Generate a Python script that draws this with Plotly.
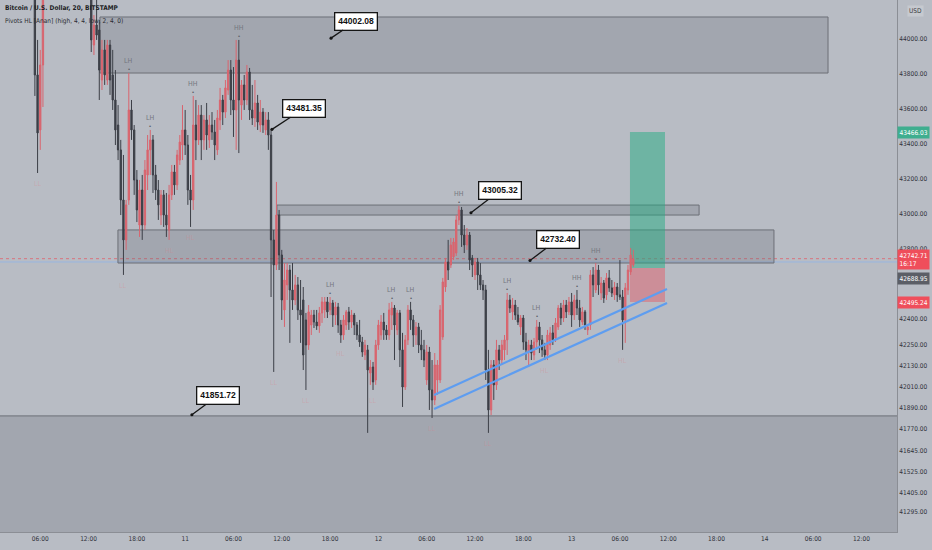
import pandas as pd
import plotly.graph_objects as go

# ---------------- data (BTC/USD, 20-minute bars, BITSTAMP) ----------------
opens = [44334, 43792, 43478, 43849, 44277, 44420, 44470, 44590, 44550, 44480, 44530, 44660, 44620, 44510, 44450, 44490,
         44570, 44460, 44380, 44420, 44330, 44277, 43963, 44077, 44049, 43763, 43935, 43763, 43963, 43792, 43649, 43506,
         43364, 43078, 42850, 43078, 43592, 43478, 43192, 42935, 43135, 42935, 43221, 43364, 43421, 43221, 43135, 42992,
         43107, 42992, 42907, 43107, 43238, 43164, 43306, 43392, 43478, 43392, 43135, 43078, 43506, 43421, 43563, 43421,
         43535, 43421, 43506, 43466, 43364, 43535, 43649, 43580, 43706, 43820, 43649, 43592, 43877, 43620, 43735, 43649,
         43809, 43592, 43546, 43632, 43506, 43580, 43478, 43535, 43449, 42850, 42707, 42992, 42764, 42450, 42593, 42678,
         42564, 42507, 42593, 42450, 42507, 42393, 42250, 42364, 42421, 42381, 42359, 42433, 42450, 42496, 42450, 42490,
         42421, 42467, 42364, 42307, 42364, 42439, 42381, 42421, 42364, 42307, 42267, 42193, 42222, 42090, 42124, 42050,
         42250, 42307, 42381, 42336, 42307, 42421, 42461, 42336, 42433, 42222, 42010, 42279, 42450, 42393, 42307, 42353,
         42250, 42222, 42050, 42210, 41993, 41936, 42050, 42050, 42296, 42581, 42724, 42707, 42753, 42775, 42964, 43021,
         42878, 42821, 42878, 42747, 42650, 42724, 42650, 42593, 42564, 42107, 41879, 42136, 42022, 42222, 42164, 42222,
         42279, 42507, 42439, 42478, 42421, 42353, 42404, 42267, 42210, 42250, 42193, 42267, 42353, 42279, 42222, 42193,
         42250, 42319, 42290, 42353, 42461, 42404, 42478, 42439, 42496, 42421, 42507, 42461, 42381, 42439, 42336, 42364,
         42650, 42564, 42678, 42547, 42604, 42536, 42633, 42576, 42536, 42581, 42536, 42524, 42393, 42564, 42667, 42707]
highs = [44448, 43992, 43935, 44391, 44560, 44510, 44620, 44680, 44600, 44560, 44700, 44750, 44650, 44580, 44520, 44600,
         44620, 44500, 44470, 44450, 44400, 44334, 44134, 44249, 44106, 43992, 43992, 43992, 43992, 43935, 43820, 43620,
         43421, 43335, 43078, 43803, 43649, 43506, 43249, 43192, 43221, 43306, 43449, 43478, 43449, 43278, 43192, 43135,
         43135, 43118, 43164, 43278, 43278, 43364, 43449, 43620, 43592, 43449, 43221, 43672, 43649, 43620, 43620, 43563,
         43632, 43563, 43580, 43535, 43592, 43718, 43678, 43763, 43877, 43877, 43837, 43992, 43992, 43763, 43792, 43849,
         43832, 43735, 43763, 43678, 43649, 43603, 43580, 43580, 43481, 42907, 43181, 43021, 42793, 42718, 42718, 42707,
         42718, 42650, 42638, 42621, 42581, 42433, 42478, 42450, 42450, 42450, 42467, 42524, 42524, 42524, 42524, 42507,
         42496, 42490, 42393, 42421, 42450, 42467, 42450, 42433, 42381, 42393, 42296, 42279, 42250, 42164, 42153, 42279,
         42393, 42421, 42433, 42364, 42490, 42496, 42478, 42450, 42450, 42319, 42307, 42478, 42496, 42421, 42381, 42376,
         42336, 42279, 42250, 42239, 42164, 42204, 42164, 42478, 42633, 42747, 42850, 42861, 42861, 42992, 43045, 43038,
         42935, 42918, 42895, 42764, 42747, 42747, 42718, 42621, 42593, 42222, 42164, 42164, 42279, 42250, 42279, 42307,
         42547, 42536, 42518, 42507, 42467, 42421, 42421, 42319, 42279, 42279, 42290, 42393, 42381, 42307, 42262, 42336,
         42353, 42364, 42404, 42478, 42490, 42507, 42507, 42524, 42547, 42536, 42564, 42507, 42467, 42450, 42364, 42678,
         42695, 42718, 42707, 42638, 42621, 42661, 42678, 42621, 42610, 42604, 42735, 42564, 42604, 42707, 42804, 42793]
lows = [43672, 43232, 43364, 43609, 44240, 44330, 44440, 44520, 44450, 44400, 44500, 44600, 44480, 44420, 44360, 44460,
        44430, 44330, 44300, 44290, 44250, 43923, 43906, 43992, 43649, 43706, 43735, 43735, 43678, 43592, 43392, 43306,
        42992, 42650, 42793, 43050, 43421, 43107, 42952, 42867, 42850, 42907, 43135, 43221, 43118, 43078, 42964, 42935,
        42924, 42867, 42850, 43078, 43107, 43135, 43278, 43306, 43335, 43050, 42924, 43021, 43306, 43392, 43306, 43364,
        43364, 43375, 43421, 43306, 43335, 43478, 43506, 43546, 43678, 43563, 43438, 43364, 43346, 43535, 43592, 43620,
        43535, 43506, 43495, 43478, 43466, 43461, 43449, 43364, 42524, 42096, 42678, 42678, 42393, 42353, 42507, 42262,
        42450, 42478, 42393, 42262, 42107, 41993, 42222, 42307, 42347, 42336, 42319, 42376, 42404, 42404, 42421, 42353,
        42364, 42319, 42262, 42279, 42336, 42336, 42347, 42307, 42279, 42239, 42182, 42164, 41748, 42022, 41993, 42022,
        42222, 42279, 42279, 42279, 42279, 42336, 42164, 42307, 42124, 41896, 41993, 42250, 42336, 42239, 42250, 42204,
        42164, 42124, 42022, 41879, 41833, 41907, 41965, 42033, 42279, 42553, 42621, 42690, 42735, 42758, 42935, 42810,
        42775, 42793, 42678, 42638, 42621, 42564, 42564, 42507, 42050, 41748, 41850, 41936, 41993, 42107, 42136, 42164,
        42193, 42433, 42393, 42393, 42364, 42307, 42222, 42164, 42124, 42164, 42164, 42222, 42204, 42182, 42164, 42164,
        42222, 42250, 42267, 42336, 42364, 42381, 42404, 42421, 42353, 42393, 42421, 42353, 42364, 42336, 42307, 42336,
        42524, 42547, 42536, 42507, 42490, 42507, 42553, 42524, 42507, 42496, 42507, 42222, 42262, 42536, 42650, 42695]
closes = [43792, 43461, 43849, 44277, 44420, 44470, 44590, 44550, 44480, 44530, 44660, 44620, 44510, 44450, 44490, 44570,
          44460, 44380, 44420, 44330, 44300, 43992, 44077, 44020, 43820, 43935, 43792, 43963, 43763, 43649, 43478, 43364,
          43078, 42850, 43050, 43592, 43478, 43192, 43021, 43135, 42935, 43249, 43364, 43421, 43221, 43135, 43050, 43107,
          42992, 42935, 43107, 43238, 43164, 43335, 43409, 43478, 43392, 43135, 43078, 43506, 43421, 43563, 43421, 43535,
          43449, 43506, 43466, 43392, 43546, 43649, 43580, 43718, 43820, 43649, 43592, 43877, 43649, 43735, 43649, 43809,
          43592, 43546, 43632, 43523, 43580, 43506, 43535, 43449, 42850, 42707, 42992, 42764, 42507, 42621, 42678, 42564,
          42507, 42593, 42450, 42421, 42193, 42250, 42439, 42421, 42381, 42359, 42433, 42496, 42496, 42439, 42490, 42421,
          42467, 42364, 42307, 42393, 42439, 42381, 42421, 42364, 42307, 42267, 42210, 42250, 42107, 42124, 42039, 42250,
          42364, 42381, 42336, 42307, 42450, 42461, 42364, 42433, 42222, 42010, 42279, 42450, 42393, 42307, 42353, 42250,
          42222, 42164, 42210, 41993, 41936, 42136, 42136, 42450, 42610, 42724, 42678, 42821, 42838, 42964, 43021, 42878,
          42821, 42878, 42735, 42707, 42724, 42650, 42593, 42564, 42107, 41879, 42136, 42022, 42222, 42164, 42250, 42279,
          42507, 42461, 42478, 42421, 42381, 42404, 42267, 42222, 42250, 42204, 42267, 42353, 42279, 42222, 42193, 42307,
          42319, 42279, 42376, 42461, 42404, 42478, 42439, 42496, 42421, 42507, 42461, 42393, 42439, 42364, 42353, 42650,
          42593, 42678, 42593, 42604, 42518, 42633, 42576, 42547, 42581, 42536, 42524, 42393, 42576, 42678, 42764, 42742.71]

bar_times = pd.date_range("2022-01-10 05:20", periods=len(closes), freq="20min")

# pivot labels from "Pivots HL [Anan]"
pivot_high_times = ["2022-01-10 17:00", "2022-01-10 19:40", "2022-01-11 01:00", "2022-01-11 06:40",
                    "2022-01-11 18:00", "2022-01-12 01:40", "2022-01-12 04:00", "2022-01-12 10:00",
                    "2022-01-12 16:00", "2022-01-12 19:40", "2022-01-13 00:40", "2022-01-13 03:00"]
pivot_high_prices = [43803, 43478, 43672, 43992, 42524, 42496, 42496, 43045, 42547, 42393, 42564, 42718]
pivot_high_labels = ["LH", "LH", "HH", "HH", "LH", "LH", "LH", "HH", "LH", "LH", "HH", "HH"]

pivot_low_times = ["2022-01-10 05:40", "2022-01-10 16:20", "2022-01-10 22:00", "2022-01-11 00:40",
                   "2022-01-11 11:00", "2022-01-11 15:00", "2022-01-11 19:20", "2022-01-11 23:20",
                   "2022-01-12 06:40", "2022-01-12 13:40", "2022-01-12 20:40", "2022-01-13 06:20"]
pivot_low_prices = [43232, 42650, 42850, 42924, 42096, 41993, 42262, 41993, 41833, 41748, 42164, 42222]
pivot_low_labels = ["LL", "LL", "HL", "HL", "LL", "LL", "HL", "LL", "LL", "LL", "HL", "HL"]

# rectangles (zones)
zone_starts = ["2022-01-10 13:25", "2022-01-11 11:24", "2022-01-10 15:39", "2022-01-09 00:00"]
zone_ends = ["2022-01-14 07:51", "2022-01-13 15:50", "2022-01-14 01:08", "2022-01-15 12:00"]
zone_tops = [44123, 43049, 42907, 41845]
zone_bottoms = [43803, 42992, 42718, 40800]

# price callouts
callout_times = ["2022-01-11 18:07", "2022-01-11 10:47", "2022-01-12 11:30", "2022-01-12 18:50", "2022-01-11 00:50"]
callout_prices = [44002.08, 43481.35, 43005.32, 42732.40, 41851.72]

# rising channel
channel_times = ["2022-01-12 06:55", "2022-01-13 11:51"]
channel_upper = [41965, 42570]
channel_lower = [41885, 42490]

# long position tool
position_times = ["2022-01-13 07:15", "2022-01-13 11:36"]
target_price = 43466.03
entry_price = 42688.95
stop_price = 42495.24
last_price = 42742.71
blue_line_price = 42724
countdown = "16:17"

# axis ticks
x_tick_vals = ["2022-01-10 06:00", "2022-01-10 12:00", "2022-01-10 18:00", "2022-01-11 00:00",
               "2022-01-11 06:00", "2022-01-11 12:00", "2022-01-11 18:00", "2022-01-12 00:00",
               "2022-01-12 06:00", "2022-01-12 12:00", "2022-01-12 18:00", "2022-01-13 00:00",
               "2022-01-13 06:00", "2022-01-13 12:00", "2022-01-13 18:00", "2022-01-14 00:00",
               "2022-01-14 06:00", "2022-01-14 12:00"]
x_tick_text = ["06:00", "12:00", "18:00", "11", "06:00", "12:00", "18:00", "12", "06:00", "12:00", "18:00",
               "13", "06:00", "12:00", "18:00", "14", "06:00", "12:00"]
y_tick_vals = [44200, 44000, 43800, 43600, 43400, 43200, 43000, 42800, 42400, 42250, 42130, 42010,
               41890, 41770, 41645, 41525, 41405, 41295]

# ---------------- styling ----------------
BG = "#b8bcc4"
UP = "#d9646e"
DOWN = "#3c3f47"
NARROW = "Liberation Sans Narrow, DejaVu Sans Condensed, Arial Narrow, Liberation Sans, sans-serif"
SANS = "Liberation Sans, Arial, sans-serif"

fig = go.Figure()

fig.add_trace(go.Candlestick(
    x=bar_times, open=opens, high=highs, low=lows, close=closes,
    increasing=dict(line=dict(color=UP, width=1), fillcolor=UP),
    decreasing=dict(line=dict(color=DOWN, width=1), fillcolor=DOWN),
    whiskerwidth=0, showlegend=False, hoverinfo="skip",
))

# channel lines
for ys in (channel_upper, channel_lower):
    fig.add_trace(go.Scatter(x=channel_times, y=ys, mode="lines",
                             line=dict(color="#5e9df0", width=2.2),
                             showlegend=False, hoverinfo="skip"))

# zones
for x0, x1, y0, y1 in zip(zone_starts, zone_ends, zone_tops, zone_bottoms):
    fig.add_shape(type="rect", xref="x", yref="y", x0=x0, x1=x1, y0=y0, y1=y1,
                  fillcolor="rgba(92,96,108,0.24)", line=dict(color="#6c6f77", width=1), layer="below")

# position tool
fig.add_shape(type="rect", xref="x", yref="y", x0=position_times[0], x1=position_times[1],
              y0=entry_price, y1=target_price, fillcolor="rgba(36,172,130,0.5)", line=dict(width=0), layer="below")
fig.add_shape(type="rect", xref="x", yref="y", x0=position_times[0], x1=position_times[1],
              y0=stop_price, y1=entry_price, fillcolor="rgba(242,60,75,0.36)", line=dict(width=0), layer="below")

# horizontal price lines
fig.add_shape(type="line", xref="paper", yref="y", x0=0, x1=1, y0=last_price, y1=last_price,
              line=dict(color="#e0606a", width=0.8, dash="dot"), layer="below")
fig.add_shape(type="line", xref="paper", yref="y", x0=0, x1=1, y0=blue_line_price, y1=blue_line_price,
              line=dict(color="#8fb3e6", width=0.8), layer="below")

# pivot labels
for t, p, lab in zip(pivot_high_times, pivot_high_prices, pivot_high_labels):
    fig.add_annotation(x=t, y=p, text=lab, showarrow=False, yshift=12,
                       font=dict(family=NARROW, size=7, color="#74777f"))
    fig.add_annotation(x=t, y=p, text="•", showarrow=False, yshift=4,
                       font=dict(family=SANS, size=6, color="#5f626a"))
for t, p, lab in zip(pivot_low_times, pivot_low_prices, pivot_low_labels):
    fig.add_annotation(x=t, y=p, text=lab, showarrow=False, yshift=-11,
                       font=dict(family=NARROW, size=7, color="rgba(226,120,130,0.3)"))

# callouts
callout_offsets = [(25, -17), (32, -21), (29, -22), (28, -21), (26, -19)]
for t, p, (ax, ay) in zip(callout_times, callout_prices, callout_offsets):
    fig.add_annotation(x=t, y=p, text="<b>%.2f</b>" % p, showarrow=True, ax=ax, ay=ay,
                       arrowhead=6, arrowsize=0.6, arrowwidth=1.3, arrowcolor="#151515",
                       bgcolor="#ffffff", bordercolor="#151515", borderwidth=1.3, borderpad=3,
                       font=dict(family=SANS, size=8.5, color="#111111"))

# right-axis price labels
def axis_label(price, text, bg, shift=0):
    fig.add_annotation(xref="paper", x=1, xanchor="left", xshift=0, yref="y", y=price, yshift=shift,
                       text=text, showarrow=False, bgcolor=bg, borderpad=1.5, align="left",
                       font=dict(family=NARROW, size=6.5, color="#ffffff"))

axis_label(target_price, "%.2f" % target_price, "#3fae8f")
axis_label(last_price, "%.2f<br>%s" % (last_price, countdown), "#ef4e5b", shift=-1)
axis_label(entry_price, "%.2f" % entry_price, "#5b5e66", shift=-10)
axis_label(stop_price, "%.2f" % stop_price, "#ef4e5b")

# header
fig.add_annotation(xref="paper", yref="paper", x=0, y=1, xanchor="left", yanchor="top", xshift=3, yshift=-2,
                   text="<b>Bitcoin / U.S. Dollar, 20, BITSTAMP</b>", showarrow=False,
                   font=dict(family=NARROW, size=6.5, color="#1e1f24"))
fig.add_annotation(xref="paper", yref="paper", x=0, y=1, xanchor="left", yanchor="top", xshift=3, yshift=-15,
                   text="Pivots HL [Anan] (high, 4, 4, low, 2, 4, 0)", showarrow=False,
                   font=dict(family=NARROW, size=6.5, color="#2a2c32"))
fig.add_annotation(xref="paper", yref="paper", x=1, y=1, xanchor="left", yanchor="top", xshift=10, yshift=-5,
                   text="USD", showarrow=False, bgcolor="#c6c9cf",
                   font=dict(family=NARROW, size=6.5, color="#3a3c42"))

fig.update_layout(
    width=932, height=550,
    margin=dict(l=0, r=35, t=0, b=18),
    paper_bgcolor=BG, plot_bgcolor=BG,
    showlegend=False,
    xaxis=dict(type="date", range=["2022-01-10 01:00", "2022-01-14 16:25"],
               tickvals=x_tick_vals, ticktext=x_tick_text, showgrid=False, zeroline=False,
               showline=True, linecolor="#8b8e95", linewidth=1, ticks="",
               tickfont=dict(family=NARROW, size=6.5, color="#30323a"),
               rangeslider=dict(visible=False), fixedrange=True, automargin=False),
    yaxis=dict(side="right", range=[41182, 44220], tickvals=y_tick_vals,
               ticktext=["%.2f" % v for v in y_tick_vals], showgrid=False, zeroline=False,
               showline=True, linecolor="#8b8e95", linewidth=1, ticks="",
               tickfont=dict(family=NARROW, size=6.5, color="#30323a"), fixedrange=True, automargin=False),
)

fig.write_html("out.html", config={"displayModeBar": False},
               post_script="document.body.style.margin='0';document.body.style.padding='0';")
